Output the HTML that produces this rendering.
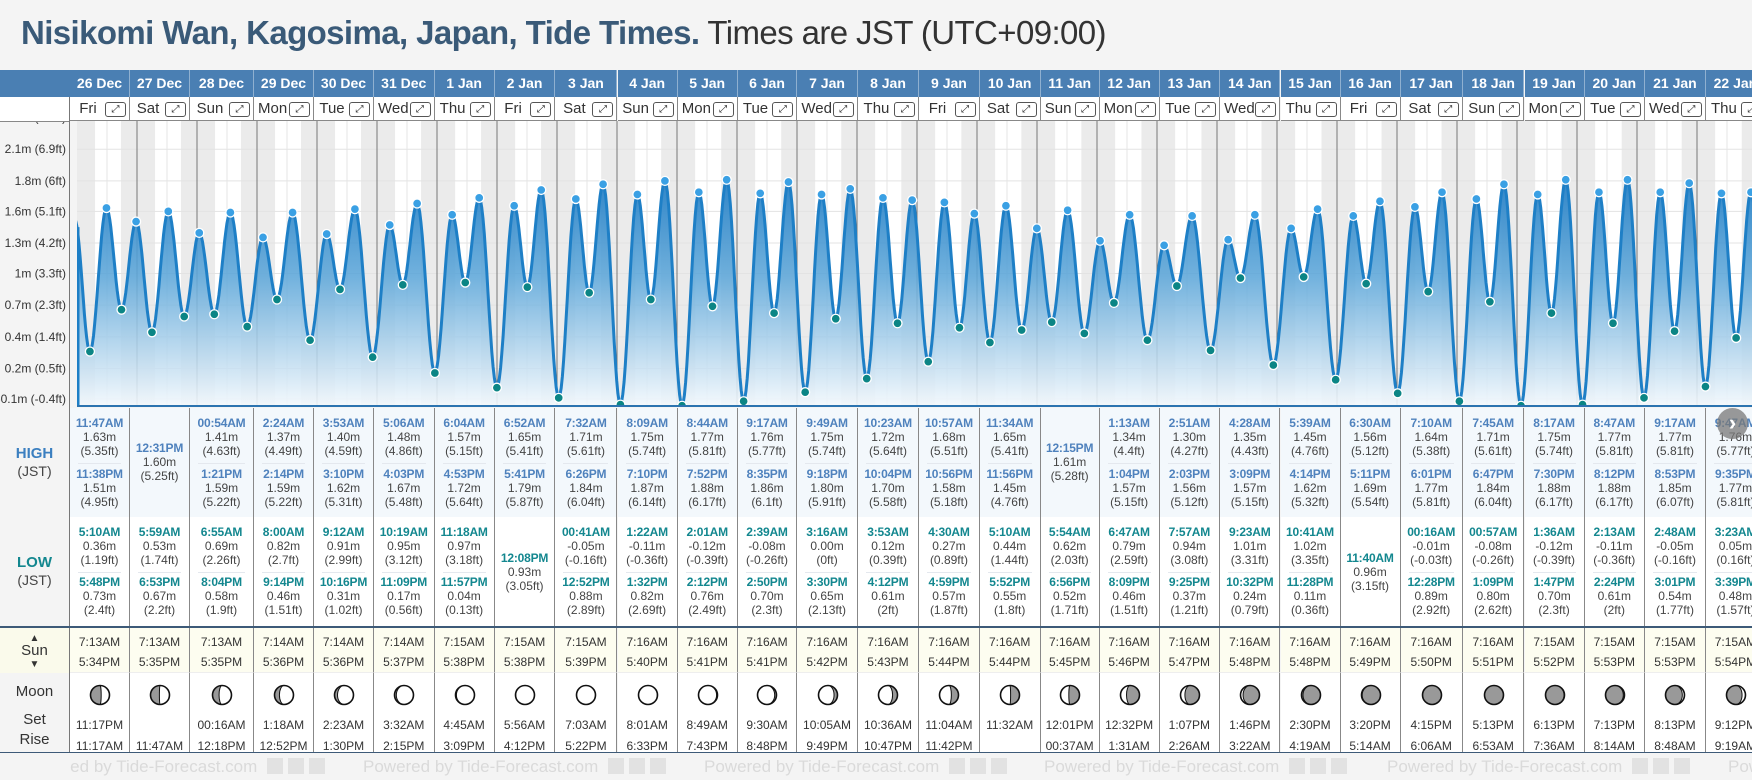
<!DOCTYPE html>
<html><head><meta charset="utf-8">
<style>
html,body{margin:0;padding:0;}
body{width:1752px;height:780px;overflow:hidden;background:#f4f4f4;position:relative;font-family:"Liberation Sans",sans-serif;color:#333;}
.abs{position:absolute;}
#title{left:21px;top:14px;font-size:33px;white-space:nowrap;letter-spacing:-0.6px;}
#title b{color:#3a5a78;}
#title span{color:#333;}
.hdr{top:70px;height:27px;background:#4a7fb3;color:#fff;font-weight:bold;font-size:14px;line-height:27px;text-align:center;border-right:1px solid #8fb0d0;box-sizing:border-box;}
.dayc{top:97px;height:24px;background:#fff;border-right:1px solid #888;border-bottom:1px solid #888;box-sizing:border-box;font-size:15px;line-height:23px;}
.xbtn{position:absolute;top:5px;width:19px;height:13px;border:1px solid #555;border-radius:3px;font-size:10px;line-height:13px;text-align:center;color:#222;}
.tl{position:absolute;left:0;width:100%;text-align:center;line-height:14px;height:14px;white-space:nowrap;}
.tm{font-weight:bold;font-size:12px;letter-spacing:-0.2px;}
.hi .tm{color:#4f82bd;}
.lo .tm{color:#13878f;}
.vv{font-size:12px;color:#444;}
.col{border-right:1px solid #888;box-sizing:border-box;}
.sep{position:absolute;left:8px;right:8px;height:1px;background:#e4e8ee;}
.st{font-size:12px;color:#333;}
.foot{top:757px;font-size:17px;color:#dadada;white-space:nowrap;}
.fi{display:inline-block;width:16px;height:16px;background:#e2e2e2;margin-left:5px;vertical-align:-2px;}
</style></head>
<body>
<div id="title" class="abs"><b>Nisikomi Wan, Kagosima, Japan, Tide Times.</b> <span>Times are JST (UTC+09:00)</span></div>

<div class="abs" style="left:0;top:70px;width:70px;height:27px;background:#4a7fb3;"></div>
<div class="abs" style="left:0;top:97px;width:69px;height:655px;background:#f4f4f4;border-right:1px solid #777;"></div>
<div class="abs" style="left:0;top:97px;width:69px;height:24px;background:#fff;border-bottom:1px solid #888;z-index:3;"></div>

<svg id="chart" class="abs" style="left:0;top:0;" width="1752" height="780"></svg>

<div id="tbl" class="abs" style="left:0;top:0;width:1752px;height:780px;"></div>

<div class="abs" style="left:0;width:69px;top:445px;text-align:center;font-size:15px;font-weight:bold;color:#3b7fc0;">HIGH</div>
<div class="abs" style="left:0;width:69px;top:463px;text-align:center;font-size:14px;color:#444;">(JST)</div>
<div class="abs" style="left:0;width:69px;top:554px;text-align:center;font-size:15px;font-weight:bold;color:#13878f;">LOW</div>
<div class="abs" style="left:0;width:69px;top:572px;text-align:center;font-size:14px;color:#444;">(JST)</div>
<div class="abs" style="left:0;width:69px;top:628px;height:45px;background:#fafaeb;"></div>
<div class="abs" style="left:0;width:69px;top:631px;text-align:center;font-size:15px;line-height:12px;color:#333;"><span style="font-size:10px">▲</span><br>Sun<br><span style="font-size:10px">▼</span></div>
<div class="abs" style="left:0;width:69px;top:683px;text-align:center;font-size:15px;color:#333;">Moon</div>
<div class="abs" style="left:0;width:69px;top:711px;text-align:center;font-size:15px;color:#333;">Set</div>
<div class="abs" style="left:0;width:69px;top:731px;text-align:center;font-size:15px;color:#333;">Rise</div>

<div class="abs" style="left:0;top:626px;width:1752px;height:2px;background:#3d5a78;"></div>
<div class="abs" style="left:0;top:752px;width:1752px;height:1px;background:#3d5a78;"></div>

<div class="abs" style="left:1717px;top:408px;width:31px;height:31px;border-radius:50%;background:rgba(120,120,120,0.75);color:#fff;font-size:22px;line-height:29px;text-align:center;font-weight:bold;">›</div>

<div id="footer" class="abs" style="left:70px;top:753px;width:1682px;height:27px;overflow:hidden;"></div>

<script>
const days=["26 Dec","27 Dec","28 Dec","29 Dec","30 Dec","31 Dec","1 Jan","2 Jan","3 Jan","4 Jan","5 Jan","6 Jan","7 Jan","8 Jan","9 Jan","10 Jan","11 Jan","12 Jan","13 Jan","14 Jan","15 Jan","16 Jan","17 Jan","18 Jan","19 Jan","20 Jan","21 Jan","22 Jan"];
const dows=["Fri","Sat","Sun","Mon","Tue","Wed","Thu","Fri","Sat","Sun","Mon","Tue","Wed","Thu","Fri","Sat","Sun","Mon","Tue","Wed","Thu","Fri","Sat","Sun","Mon","Tue","Wed","Thu"];
const highTimes=[["11:47AM","11:38PM"],["12:31PM"],["00:54AM","1:21PM"],["2:24AM","2:14PM"],["3:53AM","3:10PM"],["5:06AM","4:03PM"],["6:04AM","4:53PM"],["6:52AM","5:41PM"],["7:32AM","6:26PM"],["8:09AM","7:10PM"],["8:44AM","7:52PM"],["9:17AM","8:35PM"],["9:49AM","9:18PM"],["10:23AM","10:04PM"],["10:57AM","10:56PM"],["11:34AM","11:56PM"],["12:15PM"],["1:13AM","1:04PM"],["2:51AM","2:03PM"],["4:28AM","3:09PM"],["5:39AM","4:14PM"],["6:30AM","5:11PM"],["7:10AM","6:01PM"],["7:45AM","6:47PM"],["8:17AM","7:30PM"],["8:47AM","8:12PM"],["9:17AM","8:53PM"],["9:47AM","9:35PM"]];
const highM=[[1.63,1.51],[1.60],[1.41,1.59],[1.37,1.59],[1.40,1.62],[1.48,1.67],[1.57,1.72],[1.65,1.79],[1.71,1.84],[1.75,1.87],[1.77,1.88],[1.76,1.86],[1.75,1.80],[1.72,1.70],[1.68,1.58],[1.65,1.45],[1.61],[1.34,1.57],[1.30,1.56],[1.35,1.57],[1.45,1.62],[1.56,1.69],[1.64,1.77],[1.71,1.84],[1.75,1.88],[1.77,1.88],[1.77,1.85],[1.76,1.77]];
const highFt=[["5.35","4.95"],["5.25"],["4.63","5.22"],["4.49","5.22"],["4.59","5.31"],["4.86","5.48"],["5.15","5.64"],["5.41","5.87"],["5.61","6.04"],["5.74","6.14"],["5.81","6.17"],["5.77","6.1"],["5.74","5.91"],["5.64","5.58"],["5.51","5.18"],["5.41","4.76"],["5.28"],["4.4","5.15"],["4.27","5.12"],["4.43","5.15"],["4.76","5.32"],["5.12","5.54"],["5.38","5.81"],["5.61","6.04"],["5.74","6.17"],["5.81","6.17"],["5.81","6.07"],["5.77","5.81"]];
const lowTimes=[["5:10AM","5:48PM"],["5:59AM","6:53PM"],["6:55AM","8:04PM"],["8:00AM","9:14PM"],["9:12AM","10:16PM"],["10:19AM","11:09PM"],["11:18AM","11:57PM"],["12:08PM"],["00:41AM","12:52PM"],["1:22AM","1:32PM"],["2:01AM","2:12PM"],["2:39AM","2:50PM"],["3:16AM","3:30PM"],["3:53AM","4:12PM"],["4:30AM","4:59PM"],["5:10AM","5:52PM"],["5:54AM","6:56PM"],["6:47AM","8:09PM"],["7:57AM","9:25PM"],["9:23AM","10:32PM"],["10:41AM","11:28PM"],["11:40AM"],["00:16AM","12:28PM"],["00:57AM","1:09PM"],["1:36AM","1:47PM"],["2:13AM","2:24PM"],["2:48AM","3:01PM"],["3:23AM","3:39PM"]];
const lowM=[[0.36,0.73],[0.53,0.67],[0.69,0.58],[0.82,0.46],[0.91,0.31],[0.95,0.17],[0.97,0.04],[0.93],[-0.05,0.88],[-0.11,0.82],[-0.12,0.76],[-0.08,0.70],[0.00,0.65],[0.12,0.61],[0.27,0.57],[0.44,0.55],[0.62,0.52],[0.79,0.46],[0.94,0.37],[1.01,0.24],[1.02,0.11],[0.96],[-0.01,0.89],[-0.08,0.80],[-0.12,0.70],[-0.11,0.61],[-0.05,0.54],[0.05,0.48]];
const lowFt=[["1.19","2.4"],["1.74","2.2"],["2.26","1.9"],["2.7","1.51"],["2.99","1.02"],["3.12","0.56"],["3.18","0.13"],["3.05"],["-0.16","2.89"],["-0.36","2.69"],["-0.39","2.49"],["-0.26","2.3"],["0","2.13"],["0.39","2"],["0.89","1.87"],["1.44","1.8"],["2.03","1.71"],["2.59","1.51"],["3.08","1.21"],["3.31","0.79"],["3.35","0.36"],["3.15"],["-0.03","2.92"],["-0.26","2.62"],["-0.39","2.3"],["-0.36","2"],["-0.16","1.77"],["0.16","1.57"]];
const sunRise=["7:13AM","7:13AM","7:13AM","7:14AM","7:14AM","7:14AM","7:15AM","7:15AM","7:15AM","7:16AM","7:16AM","7:16AM","7:16AM","7:16AM","7:16AM","7:16AM","7:16AM","7:16AM","7:16AM","7:16AM","7:16AM","7:16AM","7:16AM","7:16AM","7:15AM","7:15AM","7:15AM","7:15AM"];
const sunSet=["5:34PM","5:35PM","5:35PM","5:36PM","5:36PM","5:37PM","5:38PM","5:38PM","5:39PM","5:40PM","5:41PM","5:41PM","5:42PM","5:43PM","5:44PM","5:44PM","5:45PM","5:46PM","5:47PM","5:48PM","5:48PM","5:49PM","5:50PM","5:51PM","5:52PM","5:53PM","5:53PM","5:54PM"];
const moonSet=["11:17PM","","00:16AM","1:18AM","2:23AM","3:32AM","4:45AM","5:56AM","7:03AM","8:01AM","8:49AM","9:30AM","10:05AM","10:36AM","11:04AM","11:32AM","12:01PM","12:32PM","1:07PM","1:46PM","2:30PM","3:20PM","4:15PM","5:13PM","6:13PM","7:13PM","8:13PM","9:12PM"];
const moonRise=["11:17AM","11:47AM","12:18PM","12:52PM","1:30PM","2:15PM","3:09PM","4:12PM","5:22PM","6:33PM","7:43PM","8:48PM","9:49PM","10:47PM","11:42PM","","00:37AM","1:31AM","2:26AM","3:22AM","4:19AM","5:14AM","6:06AM","6:53AM","7:36AM","8:14AM","8:48AM","9:19AM"];
const moonAge=[0.23,0.26,0.30,0.33,0.37,0.40,0.43,0.47,0.50,0.53,0.57,0.60,0.64,0.67,0.71,0.74,0.77,0.81,0.84,0.88,0.91,0.94,0.98,0.01,0.05,0.08,0.11,0.14];
const tickVals=[-0.06,0.21,0.49,0.77,1.05,1.32,1.60,1.87,2.15,2.43];
const tickLabels=["-0.1m (-0.4ft)","0.2m (0.5ft)","0.4m (1.4ft)","0.7m (2.3ft)","1m (3.3ft)","1.3m (4.2ft)","1.6m (5.1ft)","1.8m (6ft)","2.1m (6.9ft)","2.4m (7.8ft)"];
const preExtreme=[-0.04,1.53];
const postExtreme=[28.17,0.15];

// layout (pixel) constants
const edges=[70,130,190,254,314,374,434.5,494.7,555.4,617.5,677.8,737.6,797.4,857.7,919.3,979.6,1040.7,1099.6,1159.6,1220.1,1280.5,1340.5,1400.6,1462.8,1524.5,1584.6,1645,1705.9,1766];
const X0=77, PPD=60, CT=121, CB=407;
function xOf(t){return X0+PPD*t;}
function yOf(h){return 208+(1.63-h)*113;}
function t2h(s){const m=s.match(/(\d+):(\d+)(AM|PM)/);let h=(+m[1])%12;if(m[3]==="PM")h+=12;return h+(+m[2])/60;}

const NS="http://www.w3.org/2000/svg";
const svg=document.getElementById("chart");
function sv(tag,attrs,parent){const e=document.createElementNS(NS,tag);for(const k in attrs)e.setAttribute(k,attrs[k]);(parent||svg).appendChild(e);return e;}

const defs=sv("defs",{});
const cp=sv("clipPath",{id:"cclip"},defs);
sv("rect",{x:X0,y:CT,width:1752-X0,height:CB-CT},cp);
const gr=sv("linearGradient",{id:"fillg",x1:0,y1:170,x2:0,y2:407,gradientUnits:"userSpaceOnUse"},defs);
sv("stop",{offset:"0","stop-color":"#1e7bc4","stop-opacity":"0.95"},gr);
sv("stop",{offset:"0.45","stop-color":"#5ea7d9","stop-opacity":"0.88"},gr);
sv("stop",{offset:"0.8","stop-color":"#bcdaef","stop-opacity":"0.85"},gr);
sv("stop",{offset:"1","stop-color":"#f4f9fd","stop-opacity":"0.9"},gr);

const g=sv("g",{"clip-path":"url(#cclip)"});


sv("rect",{x:X0,y:CT,width:1752-X0,height:CB-CT,fill:"#ffffff"},g);
// night shading
days.forEach((d,i)=>{
  const r1=sv("rect",{x:xOf(i),y:CT,width:xOf(i+t2h(sunRise[i])/24)-xOf(i),height:CB-CT,fill:"#ebebeb"},g);
  
  
  const r2=sv("rect",{x:xOf(i+t2h(sunSet[i])/24),y:CT,width:xOf(i+1)-xOf(i+t2h(sunSet[i])/24),height:CB-CT,fill:"#ebebeb"},g);
  
  
  const nl=sv("line",{x1:xOf(i+0.5),x2:xOf(i+0.5),y1:CT,y2:CB,stroke:"#e6e6e6","stroke-width":1},g);
  
  
});
tickVals.forEach(v=>{
  const l=sv("line",{x1:X0,x2:1752,y1:yOf(v),y2:yOf(v),stroke:"#e3e3e3","stroke-width":1},g);
  
  
});
days.forEach((d,i)=>{if(i>0){
  const l=sv("line",{x1:xOf(i),x2:xOf(i),y1:CT,y2:CB,stroke:"#777","stroke-width":1},g);
  
  
}});

// extremes
const ext=[];
days.forEach((d,i)=>{
  highTimes[i].forEach((s,k)=>ext.push({t:i+t2h(s)/24,h:highM[i][k],hi:true}));
  lowTimes[i].forEach((s,k)=>ext.push({t:i+t2h(s)/24,h:lowM[i][k],hi:false}));
});
ext.sort((a,b)=>a.t-b.t);
const all=[{t:preExtreme[0],h:preExtreme[1]}].concat(ext,[{t:postExtreme[0],h:postExtreme[1]}]);
const pts=[];
for(let j=0;j<all.length-1;j++){
  const a=all[j],b=all[j+1],N=14;
  for(let k=(j===0?0:1);k<=N;k++){
    const t=a.t+(b.t-a.t)*k/N;
    const h=a.h+(b.h-a.h)*(1-Math.cos(Math.PI*k/N))/2;
    pts.push([xOf(t),yOf(h)]);
  }
}
let line="",area="";
pts.forEach((p,k)=>{line+=(k?"L":"M")+p[0].toFixed(1)+","+p[1].toFixed(1);});
area=line+"L"+pts[pts.length-1][0].toFixed(1)+","+CB+"L"+pts[0][0].toFixed(1)+","+CB+"Z";
const ap=sv("path",{d:area,fill:"url(#fillg)"},g);


const lp=sv("path",{d:line,fill:"none",stroke:"#1e7fc6","stroke-width":3,"stroke-linejoin":"round"},g);


const startY=yOf(all[0].h+(all[1].h-all[0].h)*(1-Math.cos(Math.PI*(0-all[0].t)/(all[1].t-all[0].t)))/2);
const el=sv("line",{x1:X0+1,x2:X0+1,y1:startY,y2:CB,stroke:"#1e7fc6","stroke-width":3},g);


ext.forEach(e=>{
  const c=sv("circle",{cx:xOf(e.t),cy:yOf(e.h),r:4.5,fill:e.hi?"#3aa0e4":"#0b8585",stroke:"#fff","stroke-width":1.3},g);
  
  
});
const bl=sv("line",{x1:X0,x2:1752,y1:CB-1,y2:CB-1,stroke:"#2c74b0","stroke-width":2});


tickVals.forEach((v,k)=>{
  const tx=sv("text",{x:66,y:yOf(v)+4,"text-anchor":"end","font-size":12,fill:"#333","font-family":"Liberation Sans, sans-serif"});
  tx.textContent=tickLabels[k];
  
  
});

// table
const tbl=document.getElementById("tbl");
function div(cls,css,parent,html){const e=document.createElement("div");e.className=cls;e.style.cssText=css;if(html!==undefined)e.innerHTML=html;(parent||tbl).appendChild(e);return e;}
function fm(v){return v.toFixed(2)+"m";}
function entry(col,cy,time,m,ft,cls){
  const t=div("tl tm",`top:${cy-7}px`,col,time);
  
  
  const a=div("tl vv",`top:${cy+7}px`,col,fm(m));
  
  
  const b=div("tl vv",`top:${cy+21}px`,col,"("+ft+"ft)");
  
  
}
days.forEach((d,i)=>{
  const L=edges[i],W=edges[i+1]-edges[i];
  const h=div("abs hdr",`left:${L}px;width:${W}px;`,tbl,d);
  
  
  const dc=div("abs dayc",`left:${L}px;width:${W}px;z-index:3;`,tbl);
  
  
  const dn=div("abs",`left:4px;width:${W-32}px;text-align:center;top:0;`,dc,dows[i]);
  
  
  const xb=div("xbtn",`left:${W-25}px;`,dc,"⤢");
  
  

  const hc=div("abs col hi",`left:${L}px;width:${W}px;top:408px;height:109px;background:#f3f8fc;`);
  
  
  const hcs=highTimes[i].length===2?[423-408,474-408]:[448-408];
  if(hcs.length===2){const s=div("sep","top:55px",hc);}
  highTimes[i].forEach((s,k)=>entry(hc,hcs[k],s,highM[i][k],highFt[i][k]));

  const lc=div("abs col lo",`left:${L}px;width:${W}px;top:517px;height:109px;background:#fff;`);
  
  
  const lcs=lowTimes[i].length===2?[532-517,582-517]:[558-517];
  if(lcs.length===2){const s=div("sep","top:55px",lc);}
  lowTimes[i].forEach((s,k)=>entry(lc,lcs[k],s,lowM[i][k],lowFt[i][k]));

  const sc=div("abs col",`left:${L}px;width:${W}px;top:628px;height:45px;background:#fdfdf0;border-bottom:1px solid #eee;`);
  
  
  const sr=div("tl st","top:7px",sc,sunRise[i]);
  
  
  const ss=div("tl st","top:27px",sc,sunSet[i]);
  
  

  const mc=div("abs col",`left:${L}px;width:${W}px;top:673px;height:79px;background:#fff;`);
  
  
  const p=moonAge[i],r=9.5;
  const rx=Math.abs(Math.cos(2*Math.PI*p))*r;
  let outerSweep,termSweep;
  if(p<0.5){outerSweep=1;termSweep=(p<0.25)?0:1;}else{outerSweep=0;termSweep=(p>0.75)?1:0;}
  const ms=document.createElementNS(NS,"svg");
  ms.setAttribute("width","24");ms.setAttribute("height","24");
  ms.style.cssText=`position:absolute;left:${W/2-12}px;top:10px;`;
  
  
  mc.appendChild(ms);
  const gc=document.createElementNS(NS,"circle");
  gc.setAttribute("cx",12);gc.setAttribute("cy",12);gc.setAttribute("r",r);gc.setAttribute("fill","#999");
  ms.appendChild(gc);
  const lit=document.createElementNS(NS,"path");
  lit.setAttribute("d",`M12,${12-r} A${r},${r} 0 0 ${outerSweep} 12,${12+r} A${rx.toFixed(2)},${r} 0 0 ${termSweep} 12,${12-r} Z`);
  lit.setAttribute("fill","#fff");lit.setAttribute("stroke","#111");lit.setAttribute("stroke-width","1");
  ms.appendChild(lit);
  const oc=document.createElementNS(NS,"circle");
  oc.setAttribute("cx",12);oc.setAttribute("cy",12);oc.setAttribute("r",r);oc.setAttribute("fill","none");oc.setAttribute("stroke","#111");oc.setAttribute("stroke-width","1.6");
  ms.appendChild(oc);
  const mst=div("tl st","top:45px",mc,moonSet[i]);
  
  
  const mrt=div("tl st","top:66px",mc,moonRise[i]);
  
  
});

// footer
const footer=document.getElementById("footer");
[-48,293,634,974,1317,1658].forEach(x=>{
  const f=div("abs foot",`left:${x}px;top:4px;`,footer,'Powered by Tide-Forecast.com <span class="fi"></span><span class="fi"></span><span class="fi"></span>');
  
  
});
</script>
</body></html>
